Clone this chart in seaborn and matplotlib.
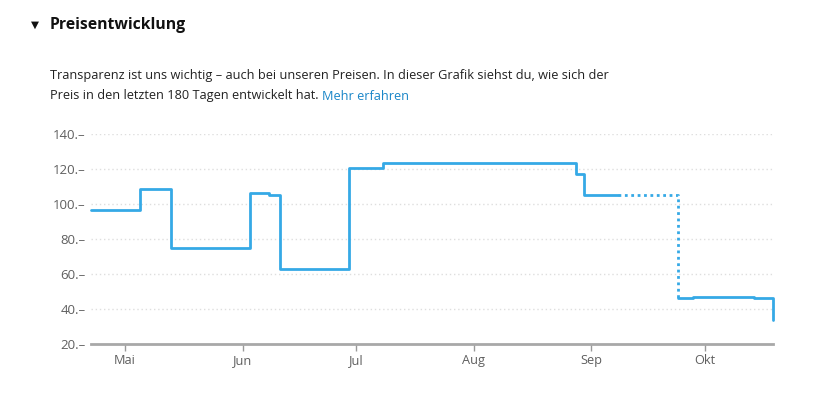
import matplotlib
matplotlib.use("Agg")
import matplotlib.pyplot as plt
import seaborn as sns
import pandas as pd

# price history (step values, day on which the price changed)
solid_dates = ["2023-04-22", "2023-05-05", "2023-05-13", "2023-06-03", "2023-06-08",
               "2023-06-11", "2023-06-29", "2023-07-08", "2023-08-28", "2023-08-30",
               "2023-09-08"]
solid_prices = [96.5, 108.5, 75.0, 106.3, 105.3, 63.0, 120.3, 123.2, 117.3, 105.4, 105.4]

gap_dates = ["2023-09-08", "2023-09-24"]
gap_prices = [105.4, 46.4]

late_dates = ["2023-09-24", "2023-09-28", "2023-10-04", "2023-10-14", "2023-10-19"]
late_prices = [46.4, 47.0, 46.6, 46.3, 34.0]

month_ticks = ["2023-05-01", "2023-06-01", "2023-07-01", "2023-08-01", "2023-09-01", "2023-10-01"]
month_labels = ["Mai", "Jun", "Jul", "Aug", "Sep", "Okt"]
y_ticks = [20, 40, 60, 80, 100, 120, 140]

line_color = "#35A9E6"
grey_text = "#5f5f5f"

sns.set_theme(style="white")
plt.rcParams["font.family"] = ["Open Sans", "DejaVu Sans"]

fig = plt.figure(figsize=(8.13, 3.97), dpi=100)
ax = fig.add_axes([91 / 813, 1 - 344 / 397, (773 - 91) / 813, (344 - 134) / 397])

solid = pd.DataFrame({"date": pd.to_datetime(solid_dates), "price": solid_prices})
gap = pd.DataFrame({"date": pd.to_datetime(gap_dates), "price": gap_prices})
late = pd.DataFrame({"date": pd.to_datetime(late_dates), "price": late_prices})

for d, ls in [(solid, "-"), (gap, (0, (1, 1.3))), (late, "-")]:
    sns.lineplot(data=d, x="date", y="price", ax=ax, color=line_color, lw=2.0,
                 linestyle=ls, drawstyle="steps-post", estimator=None, sort=False,
                 clip_on=False)

ax.set_xlim(pd.Timestamp("2023-04-22"), pd.Timestamp("2023-10-19"))
ax.set_ylim(20, 140)
ax.set_yticks(y_ticks)
ax.set_yticklabels([f"{v}.\u2013" for v in y_ticks], color=grey_text, fontsize=9.5)
ax.set_xticks(pd.to_datetime(month_ticks))
ax.set_xticklabels(month_labels, color=grey_text, fontsize=9.2)
ax.tick_params(axis="y", length=0, pad=4)
ax.tick_params(axis="x", length=5, width=1, color="#999999", pad=2, bottom=True)
ax.set_xlabel("")
ax.set_ylabel("")

for v in y_ticks[1:]:
    ax.axhline(v, color="#dedede", lw=1, linestyle=(0, (1, 2)), zorder=0)

for s in ["top", "right", "left"]:
    ax.spines[s].set_visible(False)
ax.spines["bottom"].set_color("#a8a8a8")
ax.spines["bottom"].set_linewidth(2)

# header texts
fig.text(31 / 813, 1 - 25 / 397, "\u25bc", fontsize=7.5, va="center", ha="left",
         color="#111111", family="DejaVu Sans")
fig.text(50 / 813, 1 - 25 / 397, "Preisentwicklung", fontsize=11.3, fontweight="bold",
         va="center", ha="left", color="#111111")
fig.text(50 / 813, 1 - 76 / 397,
         "Transparenz ist uns wichtig \u2013 auch bei unseren Preisen. In dieser Grafik siehst du, wie sich der",
         fontsize=9.2, va="center", ha="left", color="#222222")
t2 = fig.text(50 / 813, 1 - 96 / 397, "Preis in den letzten 180 Tagen entwickelt hat. ",
              fontsize=9.2, va="center", ha="left", color="#222222")
fig.canvas.draw()
bb = t2.get_window_extent()
fig.text(bb.x1 / 813, 1 - 96 / 397, "Mehr erfahren", fontsize=9.2, va="center",
         ha="left", color="#1a86c8")

fig.savefig("out.png", dpi=100)
